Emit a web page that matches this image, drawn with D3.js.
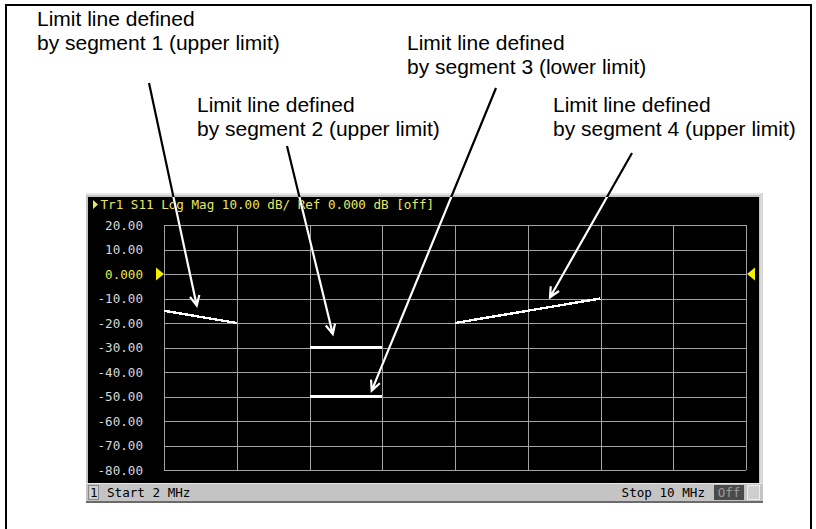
<!DOCTYPE html>
<html><head><meta charset="utf-8">
<script src="https://cdn.jsdelivr.net/npm/d3@7"></script>
<style>
html,body{margin:0;padding:0;background:#fff;}
svg{display:block;}
</style></head>
<body>
<script>
// ---- data ----
const xTicks = [2, 3, 4, 5, 6, 7, 8, 9, 10];           // MHz, grid columns
const yTicks = [20, 10, 0, -10, -20, -30, -40, -50, -60, -70, -80];
const yTickLabels = ["20.00","10.00","0.000","-10.00","-20.00","-30.00","-40.00","-50.00","-60.00","-70.00","-80.00"];
const segNames  = ["segment 1", "segment 2", "segment 3", "segment 4"];
const segStartF = [2, 4, 4, 6];        // MHz
const segStopF  = [3, 5, 5, 8];        // MHz
const segBeginV = [-15, -30, -50, -20]; // dB
const segEndV   = [-20, -30, -50, -10]; // dB
const segType   = ["upper limit", "upper limit", "lower limit", "upper limit"];
const arrowTipF = [2.45, 4.32, 4.855, 7.306];  // MHz
const arrowTipV = [-12.9, -24.5, -47.6, -9.5]; // dB
const headerText = "Tr1 S11 Log Mag 10.00 dB/ Ref 0.000 dB [off]";
const startText = "Start 2 MHz";
const stopText = "Stop 10 MHz";

// ---- layout ----
const W = 816, H = 529;
const plot = {x0: 164, x1: 746, y0: 225, y1: 470};
const panel = {x: 88, y: 197, w: 671, h: 286};
const annoPos = [[37, 26], [197, 112], [407, 50], [553, 112]];
const arrowStart = [[149, 83], [287, 146], [496, 88], [632, 153]];
const mono = "'DejaVu Sans Mono', monospace";

const svg = d3.select("body").append("svg").attr("width", W).attr("height", H);

// outer frame
svg.append("rect").attr("x", 6).attr("y", 5).attr("width", 805).attr("height", 540)
  .attr("fill", "none").attr("stroke", "#000").attr("stroke-width", 2);

// instrument panel
svg.append("rect").attr("x", 86).attr("y", 193).attr("width", 677).attr("height", 310).attr("fill", "#c4c4c4");
svg.append("rect").attr("x", 86).attr("y", 193).attr("width", 677).attr("height", 2).attr("fill", "#e6e6e6");
svg.append("rect").attr("x", 760).attr("y", 193).attr("width", 3).attr("height", 310).attr("fill", "#d8d8d8");
svg.append("rect").attr("x", panel.x).attr("y", panel.y).attr("width", panel.w).attr("height", panel.h).attr("fill", "#000");

// status bar
const sb = svg.append("g");
sb.append("rect").attr("x", 86).attr("y", 483).attr("width", 677).attr("height", 18).attr("fill", "#c4c4c4");
sb.append("line").attr("x1", 86).attr("x2", 763).attr("y1", 483.5).attr("y2", 483.5).attr("stroke", "#e8e8e8");
sb.append("line").attr("x1", 86).attr("x2", 763).attr("y1", 502).attr("y2", 502).attr("stroke", "#6a6a6a").attr("stroke-width", 2);
sb.append("rect").attr("x", 88.5).attr("y", 485.5).attr("width", 10).attr("height", 14)
  .attr("fill", "#d0d0d0").attr("stroke", "#888");
sb.append("text").attr("x", 90).attr("y", 497).attr("font-family", mono).attr("font-size", 12.6).attr("fill", "#000").text("1");
sb.append("text").attr("x", 107).attr("y", 497).attr("font-family", mono).attr("font-size", 12.6).attr("fill", "#000").text(startText);
sb.append("text").attr("x", 705).attr("y", 497).attr("text-anchor", "end").attr("font-family", mono).attr("font-size", 12.6).attr("fill", "#000").text(stopText);
sb.append("rect").attr("x", 714).attr("y", 485).attr("width", 30).attr("height", 15).attr("fill", "#4a4a4a");
sb.append("text").attr("x", 729).attr("y", 497).attr("text-anchor", "middle").attr("font-family", mono).attr("font-size", 12.6).attr("fill", "#9a9a9a").text("Off");
sb.append("rect").attr("x", 747.5).attr("y", 485.5).attr("width", 12).attr("height", 14).attr("fill", "#cfcfcf").attr("stroke", "#eee");

// scales
const x = d3.scaleLinear().domain([2, 10]).range([plot.x0, plot.x1]);
const y = d3.scaleLinear().domain([-80, 20]).range([plot.y1, plot.y0]);

// grid via axes
const gy = svg.append("g").attr("transform", `translate(${plot.x0},0)`)
  .call(d3.axisLeft(y).tickValues(yTicks).tickFormat((d, i) => yTickLabels[i])
        .tickSize(-(plot.x1 - plot.x0)).tickPadding(21));
gy.select(".domain").remove();
gy.selectAll(".tick line").attr("stroke", "#a3a3a3").attr("shape-rendering", "crispEdges");
gy.selectAll(".tick text").attr("font-family", mono).attr("font-size", 12.6)
  .attr("fill", d => d === 0 ? "#e8e840" : "#d8d8d8");

const gx = svg.append("g").attr("transform", `translate(0,${plot.y0})`)
  .call(d3.axisBottom(x).tickValues(xTicks).tickSize(plot.y1 - plot.y0).tickFormat(""));
gx.select(".domain").remove();
gx.selectAll(".tick line").attr("stroke", "#a3a3a3").attr("shape-rendering", "crispEdges");

// reference level markers
const yRef = y(0);
svg.append("path").attr("d", `M156,${yRef - 6.5}L164,${yRef}L156,${yRef + 6.5}Z`).attr("fill", "#f0f000");
svg.append("path").attr("d", `M755,${yRef - 6.5}L747,${yRef}L755,${yRef + 6.5}Z`).attr("fill", "#f0f000");

// header
svg.append("path").attr("d", "M93,200L98,204.5L93,209Z").attr("fill", "#e8e860");
svg.append("text").attr("x", 100.5).attr("y", 209).attr("font-family", mono).attr("font-size", 12.6)
  .attr("fill", "#e8e860").text(headerText);

// limit line segments
svg.append("g").selectAll("line").data(segNames).join("line")
  .attr("x1", (d, i) => x(segStartF[i])).attr("x2", (d, i) => x(segStopF[i]))
  .attr("y1", (d, i) => y(segBeginV[i])).attr("y2", (d, i) => y(segEndV[i]))
  .attr("stroke", "#fff").attr("stroke-width", 2.4).attr("shape-rendering", "crispEdges");

// annotations text
const ann = svg.append("g").attr("font-family", "'Liberation Sans', Arial, sans-serif").attr("font-size", 21).attr("fill", "#000");
segNames.forEach((s, i) => {
  const t = ann.append("text").attr("x", annoPos[i][0]).attr("y", annoPos[i][1]);
  t.append("tspan").attr("x", annoPos[i][0]).text("Limit line defined");
  t.append("tspan").attr("x", annoPos[i][0]).attr("dy", 24).text(`by ${s} (${segType[i]})`);
});

// arrows
function arrowPath(i) {
  const [sx, sy] = arrowStart[i];
  const tx = x(arrowTipF[i]), ty = y(arrowTipV[i]);
  const a = Math.atan2(ty - sy, tx - sx);
  const L = 11, sp = 0.45;
  const p1 = [tx - L * Math.cos(a - sp), ty - L * Math.sin(a - sp)];
  const p2 = [tx - L * Math.cos(a + sp), ty - L * Math.sin(a + sp)];
  return `M${sx},${sy}L${tx},${ty}M${p1[0]},${p1[1]}L${tx},${ty}L${p2[0]},${p2[1]}`;
}
svg.append("defs").append("clipPath").attr("id", "pc").append("rect")
  .attr("x", panel.x).attr("y", panel.y).attr("width", panel.w).attr("height", panel.h);
svg.append("g").selectAll("path").data(segNames).join("path")
  .attr("d", (d, i) => arrowPath(i)).attr("fill", "none").attr("stroke", "#000").attr("stroke-width", 2.2);
svg.append("g").attr("clip-path", "url(#pc)").selectAll("path").data(segNames).join("path")
  .attr("d", (d, i) => arrowPath(i)).attr("fill", "none").attr("stroke", "#fff").attr("stroke-width", 2.2);
</script>
</body></html>
